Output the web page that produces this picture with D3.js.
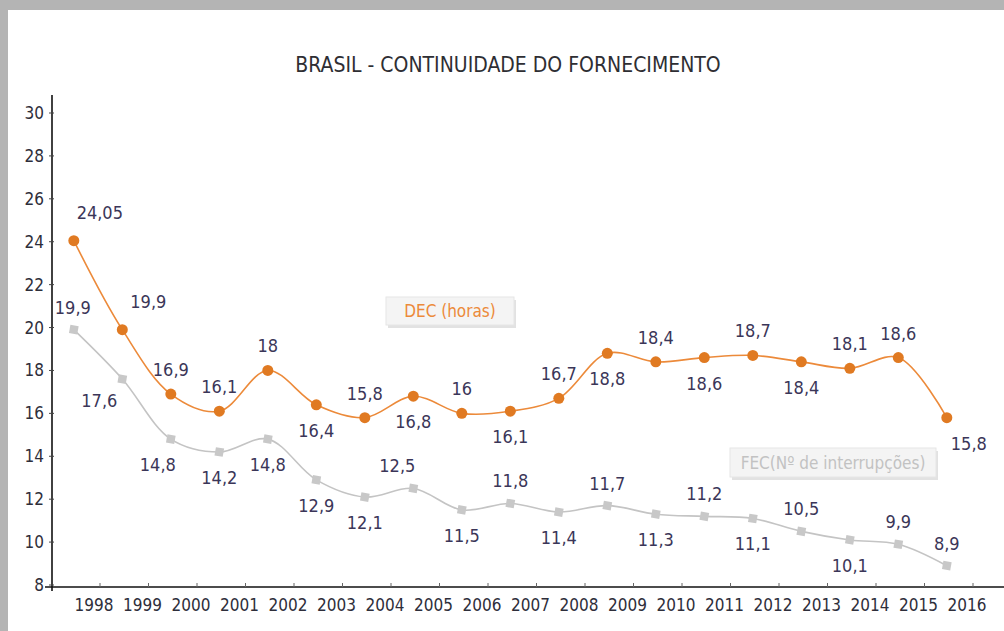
<!DOCTYPE html>
<html>
<head>
<meta charset="utf-8">
<script src="https://cdn.jsdelivr.net/npm/d3@7"></script>
<style>
  body { margin:0; background:#ffffff; }
  svg { display:block; }
  text { font-family: "Liberation Sans Narrow", "DejaVu Sans Condensed", "Roboto", sans-serif; }
</style>
</head>
<body>
<svg id="drawing_region"></svg>
<script>
// chart values
const years = ["1998","1999","2000","2001","2002","2003","2004","2005","2006","2007",
               "2008","2009","2010","2011","2012","2013","2014","2015","2016"];
const dec = [24.05, 19.9, 16.9, 16.1, 18, 16.4, 15.8, 16.8, 16, 16.1,
             16.7, 18.8, 18.4, 18.6, 18.7, 18.4, 18.1, 18.6, 15.8];
const fec = [19.9, 17.6, 14.8, 14.2, 14.8, 12.9, 12.1, 12.5, 11.5, 11.8,
             11.4, 11.7, 11.3, 11.2, 11.1, 10.5, 10.1, 9.9, 8.9];
// label placement: 1 = above, -1 = below
const decPos = [1,1,1,1,1,-1,1,-1,1,-1,1,-1,1,-1,1,-1,1,1,-1];
const fecPos = [1,-1,-1,-1,-1,-1,-1,1,-1,1,-1,1,-1,1,-1,1,-1,1,1];
const yTicks = [8,10,12,14,16,18,20,22,24,26,28,30];
const title = "BRASIL - CONTINUIDADE DO FORNECIMENTO";

const fmt = v => String(v).replace(".", ",");

const W = 1004, H = 631;
const svg = d3.select("#drawing_region").attr("width", W).attr("height", H);

// frame
svg.append("rect").attr("width", W).attr("height", H).attr("fill", "#b4b4b4");
svg.append("rect").attr("x", 8).attr("y", 10).attr("width", W).attr("height", H)
  .attr("fill", "#ffffff");

svg.append("text").text(title)
  .attr("x", 508).attr("y", 72)
  .attr("text-anchor", "middle")
  .attr("font-size", 21).attr("fill", "#2e2e33");

const xscale = d3.scaleLinear().domain([0, years.length - 1]).range([100, 973]);
const yscale = d3.scaleLinear().domain([8, 30]).range([585, 113]);
const px = i => xscale(i - 0.54);

// y axis
const yaxis = svg.append("g").attr("transform", "translate(52,0)");
yaxis.append("line").attr("x1", 0).attr("x2", 0).attr("y1", 95).attr("y2", 591)
  .attr("stroke", "#111").attr("stroke-width", 1.6);
yaxis.selectAll(".yt").data(yTicks).enter().append("line")
  .attr("x1", -3).attr("x2", 2)
  .attr("y1", d => yscale(d)).attr("y2", d => yscale(d))
  .attr("stroke", "#444");
yaxis.selectAll(".yl").data(yTicks).enter().append("text")
  .attr("x", -8).attr("y", d => yscale(d) + 6)
  .attr("text-anchor", "end")
  .attr("font-size", 17).attr("fill", "#2e2e3a")
  .text(d => d);

// x axis
const xg = svg.append("g");
xg.append("line").attr("x1", 45).attr("x2", W).attr("y1", 587).attr("y2", 587)
  .attr("stroke", "#111").attr("stroke-width", 1.6);
xg.selectAll(".xt").data(years).enter().append("line")
  .attr("x1", (d, i) => xscale(i)).attr("x2", (d, i) => xscale(i))
  .attr("y1", 583).attr("y2", 587)
  .attr("stroke", "#666");
xg.selectAll(".xl").data(years).enter().append("text")
  .attr("x", (d, i) => xscale(i) - 6).attr("y", 611)
  .attr("text-anchor", "middle")
  .attr("font-size", 17).attr("fill", "#2e2e3a")
  .text(d => d);

const line = d3.line()
  .x((d, i) => px(i))
  .y(d => yscale(d))
  .curve(d3.curveCatmullRom.alpha(0.5));

// FEC series
svg.append("path").attr("d", line(fec))
  .attr("fill", "none").attr("stroke", "#c4c4c4").attr("stroke-width", 1.6);
svg.selectAll(".fm").data(fec).enter().append("path")
  .attr("d", d3.symbol().type(d3.symbolSquare).size(70))
  .attr("transform", (d, i) => `translate(${px(i)},${yscale(d)}) rotate(10)`)
  .attr("fill", "#c8c8c8");

// DEC series
svg.append("path").attr("d", line(dec))
  .attr("fill", "none").attr("stroke", "#ec8a3a").attr("stroke-width", 1.6);
svg.selectAll(".dm").data(dec).enter().append("circle")
  .attr("cx", (d, i) => px(i)).attr("cy", d => yscale(d))
  .attr("r", 5.5).attr("fill", "#e07a22");

// data labels
const labelColor = "#3b3658";
svg.selectAll(".dl").data(dec).enter().append("text")
  .attr("x", (d, i) => px(i) + (i < 2 ? 26 : i === 18 ? 22 : 0))
  .attr("y", (d, i) => yscale(d) + (decPos[i] > 0 ? -18 : 32) + (i < 2 ? -4 : 0))
  .attr("text-anchor", "middle")
  .attr("font-size", 18).attr("fill", labelColor)
  .text(d => fmt(d));

svg.selectAll(".fl").data(fec).enter().append("text")
  .attr("x", (d, i) => px(i) + (i === 0 ? -1 : i === 1 ? -23 : i === 2 ? -13 : i === 7 ? -16 : 0))
  .attr("y", (d, i) => yscale(d) + (fecPos[i] > 0 ? -16 : 32) + (i === 1 ? -4 : 0))
  .attr("text-anchor", "middle")
  .attr("font-size", 18).attr("fill", labelColor)
  .text(d => fmt(d));

// legend boxes
function legend(x, y, w, h, label, color) {
  const g = svg.append("g").attr("transform", `translate(${x},${y})`);
  g.append("rect").attr("x", 2).attr("y", 3).attr("width", w).attr("height", h)
    .attr("fill", "#e2e2e2");
  g.append("rect").attr("width", w).attr("height", h)
    .attr("fill", "#f4f4f4").attr("stroke", "#e6e6e6");
  g.append("text").text(label)
    .attr("x", w / 2).attr("y", h / 2 + 6)
    .attr("text-anchor", "middle")
    .attr("font-size", 17).attr("fill", color);
}
legend(386, 297, 128, 28, "DEC (horas)", "#ec8a3a");
legend(730, 448, 206, 29, "FEC(Nº de interrupções)", "#c2c2c2");
</script>
</body>
</html>
